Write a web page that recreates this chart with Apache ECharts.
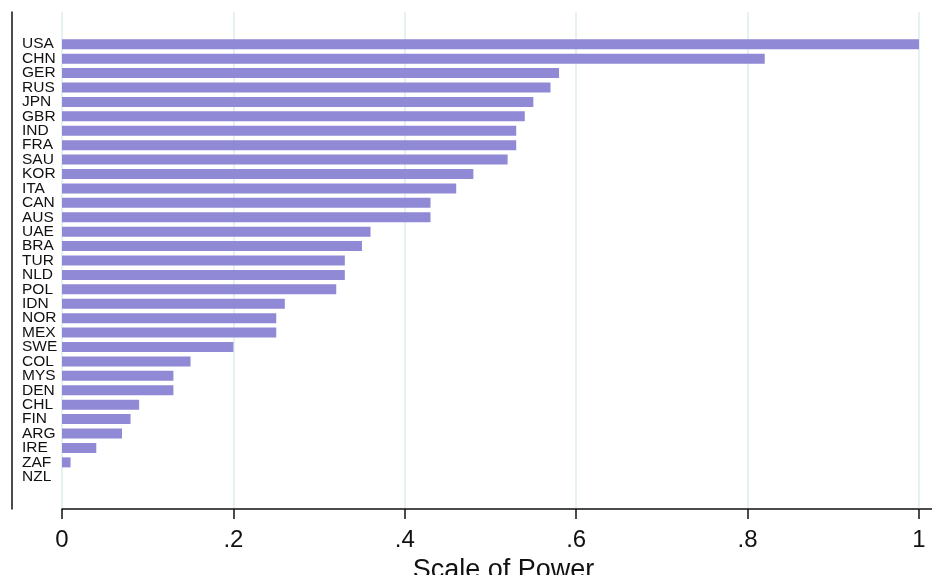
<!DOCTYPE html>
<html>
<head>
<meta charset="utf-8">
<script src="https://cdn.jsdelivr.net/npm/echarts@6/dist/echarts.min.js"></script>
<style>
html,body{margin:0;padding:0;background:#fff;}
#chart{width:932px;height:575px;}
</style>
</head>
<body>
<div id="chart"></div>
<script>
const categories = ['USA','CHN','GER','RUS','JPN','GBR','IND','FRA','SAU','KOR','ITA','CAN','AUS','UAE','BRA','TUR','NLD','POL','IDN','NOR','MEX','SWE','COL','MYS','DEN','CHL','FIN','ARG','IRE','ZAF','NZL'];
const powerValues = [1.00,0.82,0.58,0.57,0.55,0.54,0.53,0.53,0.52,0.48,0.46,0.43,0.43,0.36,0.35,0.33,0.33,0.32,0.26,0.25,0.25,0.20,0.15,0.13,0.13,0.09,0.08,0.07,0.04,0.01,0.00];
const tickValues = [0,0.2,0.4,0.6,0.8,1];
const tickLabels = ['0','.2','.4','.6','.8','1'];
const axisTitle = 'Scale of Power';

const FONT = '"Liberation Sans", Arial, sans-serif';
const chart = echarts.init(document.getElementById('chart'), null, {renderer:'canvas'});

function tickFmt(v){
  for (let i=0;i<tickValues.length;i++){ if (Math.abs(v-tickValues[i])<1e-9) return tickLabels[i]; }
  return '';
}

const option = {
  backgroundColor:'#ffffff',
  animation:false,
  grid:[
    {left:62, right:13, top:12, bottom:66, containLabel:false, outerBoundsMode:'none'},
    {left:62, right:13, top:37, bottom:91, containLabel:false, outerBoundsMode:'none'}
  ],
  xAxis:[
    {
      gridIndex:0, type:'value', min:0, max:1, interval:0.2,
      name:axisTitle, nameLocation:'middle', nameGap:40,
      nameTextStyle:{fontFamily:FONT, fontSize:27, color:'#111', padding:[0,0,0,26]},
      axisLine:{show:true, onZero:false, lineStyle:{color:'#111', width:1.5}},
      axisTick:{show:true, length:10, lineStyle:{color:'#111', width:1.5}},
      axisLabel:{show:true, margin:19, fontFamily:FONT, fontSize:24, color:'#111', formatter:tickFmt},
      splitLine:{show:true, lineStyle:{color:'#deeded', width:1.5}}
    },
    {
      gridIndex:1, type:'value', min:0, max:1, interval:0.2,
      show:false, splitLine:{show:false}
    }
  ],
  yAxis:[
    {
      gridIndex:0, type:'value', min:0, max:1, position:'left', offset:50.5,
      axisLine:{show:true, onZero:false, lineStyle:{color:'#111', width:1.5}},
      axisTick:{show:false}, axisLabel:{show:false}, splitLine:{show:false}
    },
    {
      gridIndex:1, type:'category', data:categories, inverse:true,
      axisLine:{show:false}, axisTick:{show:false}, splitLine:{show:false},
      axisLabel:{show:true, align:'left', margin:40, fontFamily:FONT, fontSize:15.5, color:'#111', interval:0}
    }
  ],
  graphic:[
    {type:'line', shape:{x1:919, y1:509, x2:932, y2:509}, style:{stroke:'#111', lineWidth:1.5}, silent:true}
  ],
  series:[
    {
      type:'bar', xAxisIndex:1, yAxisIndex:1, data:powerValues,
      barWidth:10,
      itemStyle:{color:'#9089d5', borderWidth:0}
    }
  ]
};
chart.setOption(option);
</script>
</body>
</html>
